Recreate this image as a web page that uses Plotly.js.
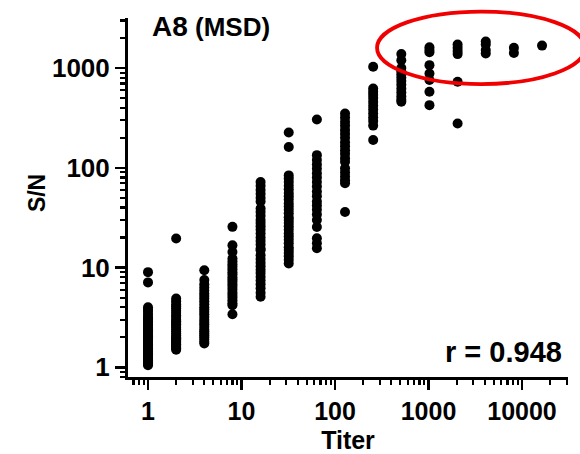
<!DOCTYPE html>
<html>
<head>
<meta charset="utf-8">
<script src="https://cdn.plot.ly/plotly-3.0.1.min.js"></script>
<style>html,body{margin:0;padding:0;background:#fff;}#chart{width:580px;height:454px;}</style>
</head>
<body>
<div id="chart"></div>
<script>
// Titer dilutions (x) and S/N values (y), one array per titer
const titers = [1, 2, 4, 8, 16, 32, 64, 128, 256, 512, 1024, 2048, 4096, 8192, 16384];
const sn_1 = [9.0, 7.1, 4.0, 3.8, 3.6, 3.4, 3.2, 3.1, 3.0, 2.9, 2.8, 2.7, 2.6, 2.5, 2.4, 2.35, 2.3, 2.2, 2.1, 2.05, 2.0, 1.95, 1.9, 1.85, 1.8, 1.75, 1.7, 1.65, 1.6, 1.55, 1.5, 1.45, 1.4, 1.38, 1.35, 1.3, 1.28, 1.25, 1.22, 1.2, 1.18, 1.15, 1.12, 1.1, 1.08, 1.05];
const sn_2 = [19.6, 4.9, 4.6, 4.3, 4.1, 3.9, 3.7, 3.5, 3.3, 3.2, 3.0, 2.9, 2.8, 2.7, 2.6, 2.5, 2.4, 2.3, 2.2, 2.1, 2.0, 1.95, 1.9, 1.85, 1.8, 1.75, 1.7, 1.65, 1.6, 1.55, 1.5];
const sn_4 = [9.4, 7.5, 6.8, 6.3, 5.9, 5.5, 5.2, 4.9, 4.6, 4.3, 4.0, 3.8, 3.6, 3.4, 3.2, 3.0, 2.85, 2.7, 2.55, 2.4, 2.3, 2.2, 2.1, 2.0, 1.9, 1.8, 1.73];
const sn_8 = [25.6, 16.7, 14.3, 12.3, 11.5, 10.8, 10.2, 9.6, 9.0, 8.5, 8.0, 7.6, 7.2, 6.8, 6.4, 6.0, 5.6, 5.3, 5.0, 4.7, 4.4, 4.2, 3.4];
const sn_16 = [72, 66, 60, 55, 50, 46, 39, 36, 33, 30, 28, 26, 24, 22, 20, 18.5, 17, 15.5, 14.9, 13.3, 12.2, 11.2, 10.3, 9.5, 8.8, 8.1, 7.4, 6.8, 6.2, 5.6, 5.1];
const sn_32 = [226, 162, 84, 78, 72, 66, 61, 56, 52, 48, 44, 41, 38, 35, 32, 30, 28, 26, 24, 22, 20.5, 19, 17.5, 16, 15, 14, 13, 12, 11];
const sn_64 = [305, 134, 120, 108, 98, 88, 80, 72, 65, 58, 52, 46, 42, 38, 34, 30, 25.5, 19.7, 17.5, 15.6];
const sn_128 = [350, 320, 290, 265, 240, 220, 200, 180, 165, 150, 138, 125, 115, 99, 90, 82, 75, 70, 36];
const sn_256 = [1030, 625, 580, 540, 500, 460, 420, 385, 350, 320, 295, 265, 190];
const sn_512 = [1380, 1200, 1000, 930, 860, 800, 740, 680, 620, 570, 520, 480, 460];
const sn_1024 = [1620, 1520, 1440, 1070, 880, 760, 580, 425];
const sn_2048 = [1720, 1600, 1480, 1380, 730, 278];
const sn_4096 = [1850, 1720, 1520, 1400];
const sn_8192 = [1600, 1420];
const sn_16384 = [1680];
const yTickVals = [1, 10, 100, 1000];
const yTickText = ["1", "10", "100", "1000"];
const xTickVals = [1, 10, 100, 1000, 10000];
const xTickText = ["1", "10", "100", "1000", "10000"];
const rText = "r = 0.948";

const groups = [sn_1, sn_2, sn_4, sn_8, sn_16, sn_32, sn_64, sn_128, sn_256, sn_512, sn_1024, sn_2048, sn_4096, sn_8192, sn_16384];
const xs = [], ys = [];
groups.forEach((g, i) => g.forEach(v => { xs.push(titers[i]); ys.push(v); }));

const FONT = "Liberation Sans, Arial, sans-serif";

const trace = {
  type: "scatter", mode: "markers", x: xs, y: ys,
  marker: {color: "#000", size: 10, line: {width: 0}},
  hoverinfo: "x+y", showlegend: false
};

const axisCommon = {
  type: "log", showgrid: false, zeroline: false,
  showline: true, linecolor: "#000", linewidth: 3,
  ticks: "outside", ticklen: 10, tickwidth: 2.6, tickcolor: "#000",
  tickmode: "array",
  minor: {ticks: "outside", ticklen: 5, tickwidth: 2.2, tickcolor: "#000", dtick: "D1", showgrid: false}
};

const layout = {
  width: 580, height: 454,
  margin: {l: 128, r: 12, t: 18, b: 77},
  paper_bgcolor: "#fff", plot_bgcolor: "#fff",
  xaxis: Object.assign({}, axisCommon, {
    range: [-0.214, 4.492], tickvals: xTickVals, ticktext: xTickText,
    tickfont: {family: FONT, size: 25, color: "#000", weight: "bold"},
    title: {text: "Titer", font: {family: FONT, size: 25, color: "#000", weight: "bold"}, standoff: 16}
  }),
  yaxis: Object.assign({}, axisCommon, {
    range: [-0.097, 3.502], tickvals: yTickVals, ticktext: yTickText,
    tickfont: {family: FONT, size: 26, color: "#000", weight: "bold"},
    title: {text: ""}
  }),
  annotations: [
    {xref: "paper", yref: "paper", x: -0.207, y: 0.512, xanchor: "center", yanchor: "middle", showarrow: false,
     textangle: -90, text: "S/N",
     font: {family: FONT, size: 23, color: "#000", weight: "bold"}},
    {xref: "paper", yref: "paper", x: 0.05, y: 0.975, xanchor: "left", yanchor: "middle", showarrow: false,
     text: "<span style='font-size:28px'>A8</span> (MSD)",
     font: {family: FONT, size: 26, color: "#000", weight: "bold"}},
    {xref: "paper", yref: "paper", x: 0.992, y: 0.07, xanchor: "right", yanchor: "middle", showarrow: false,
     text: rText, font: {family: FONT, size: 29, color: "#000", weight: "bold"}}
  ],
  shapes: [
    {type: "circle", xref: "paper", yref: "paper", x0: 0.566, x1: 1.039, y0: 0.816, y1: 1.018,
     line: {color: "rgb(240,0,0)", width: 3.8}, fillcolor: "rgba(0,0,0,0)"}
  ]
};

Plotly.newPlot("chart", [trace], layout, {displayModeBar: false, staticPlot: true});
</script>
</body>
</html>
